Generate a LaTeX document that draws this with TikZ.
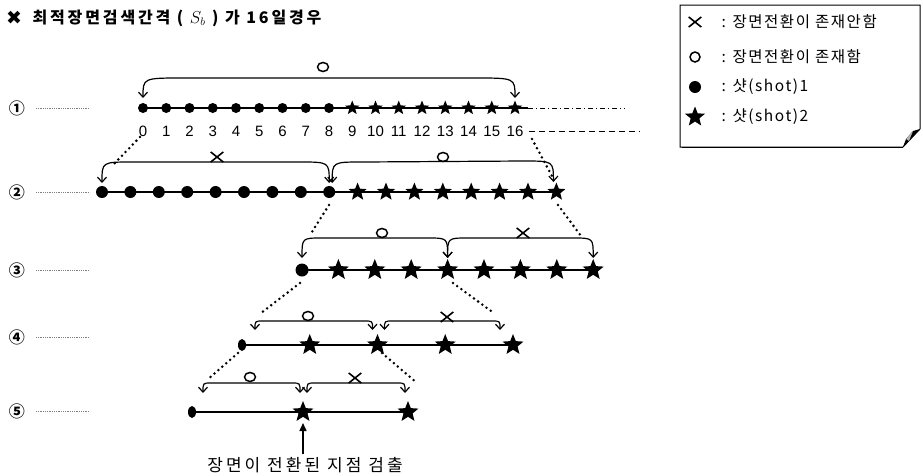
\documentclass[tikz,border=0pt]{standalone}
\usepackage{fontspec}
\setmainfont{Liberation Sans}
\newfontfamily\kr[LetterSpace=18]{Noto Sans CJK KR}
\newfontfamily\krl[LetterSpace=10]{Noto Sans CJK KR}
\newfontfamily\krw[LetterSpace=18]{Noto Sans CJK KR}
\newfontfamily\dv{DejaVu Sans}
\usetikzlibrary{shapes.geometric,shapes.misc,arrows.meta,calc}
\tikzset{
  dotc/.style={circle,fill=black,inner sep=0pt,minimum size=#1},
  starp/.style={star,star points=5,star point ratio=2.3,fill=black,inner sep=0pt,minimum size=#1},
  rowline/.style={line width=1.3pt},
  brc/.style={line width=1.2pt,{Straight Barb[length=5pt,width=9pt]}-{Straight Barb[length=5pt,width=9pt]}},
  dotl/.style={line width=2.8pt,line cap=round,dash pattern=on 0pt off 5.2pt},
  leader/.style={line width=0.5pt,gray,dash pattern=on 1pt off 0.8pt},
  omark/.style={ellipse,draw,line width=1.5pt,inner sep=0pt,minimum width=11pt,minimum height=9pt},
  xmark/.style={cross out,draw,line width=1.6pt,inner sep=0pt,minimum width=11pt,minimum height=8.5pt},
  krt/.style={font=\krl\fontsize{15.5}{15.5}\selectfont},
  num/.style={font=\fontsize{15}{15}\selectfont},
}
\newcommand\brc[4]{\draw[brc] (#1) .. controls ($(#1)+(0,-#3)$) .. ($(#1)+(#4,-#3)$) -- ($(#2)+(-#4,-#3)$) .. controls ($(#2)+(0,-#3)$) .. (#2);}
\begin{document}
\begin{tikzpicture}[x=1pt,y=-1pt]
\useasboundingbox (0,0) rectangle (923,475);
% title
\node[font=\dv\bfseries\fontsize{19}{19}\selectfont] (tx) at (14,18) {✖};
\node[anchor=west,font=\kr\bfseries\fontsize{16}{16}\selectfont] (title) at (29,18) {최적장면검색간격 ( $S_b$ ) 가 16일경우};
% legend
\draw[line width=1pt] (680,5) -- (920,5) -- (920,129) -- (903,147) -- (680,147) -- cycle;
\draw[line width=1.8pt] (682,147.5) -- (903,147.5);
\fill[black] (903,147) -- (920,129) -- (913,131) -- (906,139) -- cycle;
\fill[gray!60] (906,139) -- (913,131) -- (909,141) -- cycle;
\node[xmark] (lgx) at (695,22) {};
\node[anchor=west,krt] (lgxt) at (718,22) {: 장면전환이 존재안함};
\node[circle,draw,line width=1.5pt,inner sep=0pt,minimum size=10pt] (lgo) at (695,57) {};
\node[anchor=west,krt] (lgot) at (718,57) {: 장면전환이 존재함};
\node[dotc=12pt] (lgc) at (695,87) {};
\node[anchor=west,krt] (lgct) at (718,87) {: 샷(shot)1};
\node[starp=21pt] (lgs) at (695,117) {};
\node[anchor=west,krt] (lgst) at (718,117) {: 샷(shot)2};
% row labels
\foreach \k/\lab/\yy in {1/①/108,2/②/192,3/③/270,4/④/337,5/⑤/411}{
  \node[font=\kr\bfseries\fontsize{16}{16}\selectfont] (L\k) at (17,\yy) {\lab};
  \coordinate (Le\k) at (90,\yy);
  \draw[leader] (36,\yy) -- (Le\k);
}
% row 1
\coordinate (r1end) at (528,108);
\draw[rowline] (143,108) -- (r1end);
\foreach \i in {0,...,16}{
  \pgfmathsetmacro\xx{143+23.25*\i}
  \ifnum\i<9 \node[dotc=10pt] (r1-\i) at (\xx,108) {};
  \else \node[starp=15pt] (r1-\i) at (\xx,108) {}; \fi
  \node[num] (n\i) at (\xx,131) {\i};
}
\coordinate (dashA) at (625,108);
\coordinate (dashB) at (640,131);
\draw[line width=0.6pt,dash pattern=on 5pt off 3pt on 1pt off 3pt] (r1end) -- (dashA);
\draw[line width=0.8pt,dash pattern=on 6pt off 4pt] ($(n16.east)+(2,0)$) -- (dashB);
\coordinate (b1a) at ($(r1-0)+(0,-10)$);
\coordinate (b1b) at ($(r1-16)+(0,-10)$);
\brc{b1a}{b1b}{20}{40}
\node[omark] (o1) at (323,67) {};
% row 2
\draw[rowline] (102,192) -- (557,192);
\foreach \i in {0,...,16}{
  \pgfmathsetmacro\xx{102+28.4*\i}
  \ifnum\i<9 \node[dotc=12pt] (r2-\i) at (\xx,192) {};
  \else \node[starp=19pt] (r2-\i) at (\xx,192) {}; \fi
}
\coordinate (b2a) at ($(r2-0)+(0,-9)$);
\coordinate (b2b) at ($(r2-8)+(0,-9)$);
\coordinate (b2c) at ($(r2-8)+(3,-9)$);
\coordinate (b2d) at ($(r2-16)+(-3,-10)$);
\brc{b2a}{b2b}{21}{30}
\brc{b2c}{b2d}{21}{30}
\node[xmark] (x2) at (217,157) {};
\node[omark] (o2) at (443,157) {};
% row 3
\draw[rowline] (302,270) -- (593,270);
\foreach \j in {0,...,8}{
  \pgfmathsetmacro\xx{302+36.4*\j}
  \ifnum\j<1 \node[dotc=13pt] (r3-\j) at (\xx,270) {};
  \else \node[starp=22pt] (r3-\j) at (\xx,270) {}; \fi
}
\coordinate (b3a) at ($(r3-0)+(0,-12)$);
\coordinate (b3b) at ($(r3-4)+(0,-12)$);
\coordinate (b3c) at ($(r3-4)+(0,-12)$);
\coordinate (b3d) at ($(r3-8)+(0,-12)$);
\brc{b3a}{b3b}{20}{20}
\brc{b3c}{b3d}{20}{20}
\node[omark] (o3) at (382,233) {};
\node[xmark] (x3) at (523,233) {};
% row 4
\draw[rowline] (242,345) -- (513,345);
\node[ellipse,fill=black,inner sep=0pt,minimum width=8pt,minimum height=12pt] (r4-0) at (242,345) {};
\foreach \k in {1,...,4}{
  \pgfmathsetmacro\xx{242+67.75*\k}
  \node[starp=22pt] (r4-\k) at (\xx,345) {};
}
\coordinate (b4a) at ($(r4-0)+(13,-15)$);
\coordinate (b4b) at ($(r4-2)+(-5,-15)$);
\coordinate (b4c) at ($(r4-2)+(7,-15)$);
\coordinate (b4d) at ($(r4-4)+(-13,-15)$);
\brc{b4a}{b4b}{9}{8}
\brc{b4c}{b4d}{9}{8}
\node[omark] (o4) at (308,316) {};
\node[xmark] (x4) at (447,317) {};
% row 5
\draw[rowline] (192,412) -- (408,412);
\node[ellipse,fill=black,inner sep=0pt,minimum width=8pt,minimum height=12pt] (r5-0) at (192,412) {};
\node[starp=22pt] (r5-1) at (303,412) {};
\node[starp=22pt] (r5-2) at (408,412) {};
\coordinate (b5a) at ($(r5-0)+(11,-19)$);
\coordinate (b5b) at ($(r5-1)+(-3,-19)$);
\coordinate (b5c) at ($(r5-1)+(4,-19)$);
\coordinate (b5d) at ($(r5-2)+(-3,-19)$);
\brc{b5a}{b5b}{10}{8}
\brc{b5c}{b5d}{10}{8}
\node[omark] (o5) at (250,377) {};
\node[xmark] (x5) at (355,378) {};
% dotted connectors
\coordinate (d1s) at (140,137); \coordinate (d1e) at (114,164);
\coordinate (d2s) at (532,139); \coordinate (d2e) at (552,176);
\coordinate (d3s) at (329,205); \coordinate (d3e) at (310,235);
\coordinate (d4s) at (558,205); \coordinate (d4e) at (581,236);
\coordinate (d5s) at (300,283); \coordinate (d5e) at (261,313);
\coordinate (d6s) at (453,283); \coordinate (d6e) at (491,311);
\coordinate (d7s) at (238,353); \coordinate (d7e) at (207,380);
\coordinate (d8s) at (382,353); \coordinate (d8e) at (417,383);
\foreach \d in {1,...,8}{ \draw[dotl] (d\d s) -- (d\d e); }
% detection arrow
\node[font=\krw\fontsize{17}{17}\selectfont,anchor=center] (det) at (305,465) {장면이 전환된 지점 검출};
\draw[line width=1.5pt,-{Triangle[length=8pt,width=7pt]}] (det.north -| r5-1) -- ($(r5-1)+(0,11)$);
\end{tikzpicture}
\end{document}
